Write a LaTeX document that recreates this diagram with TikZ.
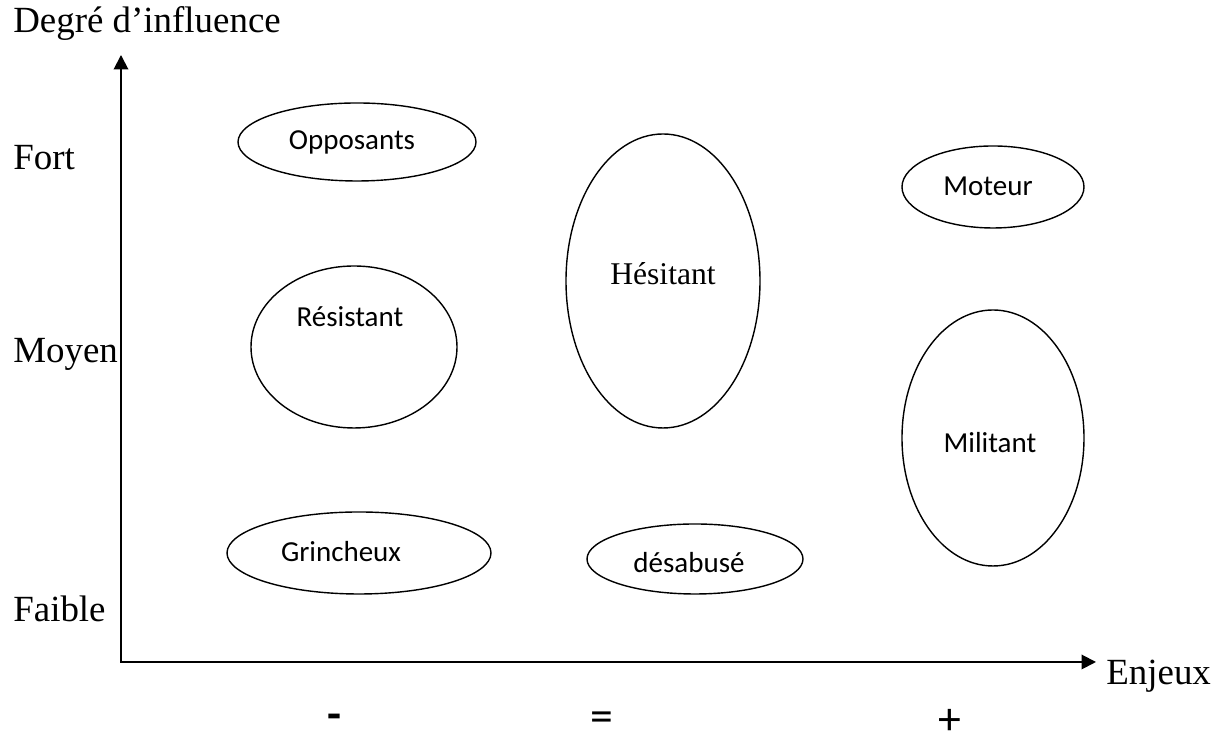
\documentclass[tikz,border=0pt]{standalone}
\usepackage{fontspec}
\setmainfont{Liberation Serif}
\newfontfamily\calib{Carlito}
\usetikzlibrary{arrows.meta,shapes.geometric}
\tikzset{
  axe/.style={line width=1.1pt,{Triangle[length=2.9mm,width=2.9mm]}-{Triangle[length=2.9mm,width=2.9mm]}},
  grp/.style={draw,ellipse,line width=0.8pt,inner sep=0pt},
  lbl/.style={font=\calib\fontsize{16.5}{19}\selectfont},
  axlbl/.style={font=\fontsize{21}{25}\selectfont,anchor=base west,inner sep=0pt},
  signe/.style={font=\calib\fontsize{26}{30}\selectfont,inner sep=0pt}
}
\begin{document}
\begin{tikzpicture}
\useasboundingbox (0,0) rectangle (24.38,15.02);
\coordinate (o) at (2.42,1.78);
\coordinate (ytop) at (2.42,13.92);
\coordinate (xend) at (21.92,1.78);
\draw[axe] (ytop) -- (o) -- (xend);
\node[axlbl] (deg) at (0.26,14.36) {Degré d’influence};
\node[axlbl] (fort) at (0.26,11.62) {Fort};
\node[axlbl] (moyen) at (0.26,7.76) {Moyen};
\node[axlbl] (faible) at (0.26,2.58) {Faible};
\node[axlbl] (enjeux) at (22.12,1.32) {Enjeux};
% groupes
\node[grp,minimum width=4.76cm,minimum height=1.56cm] (opp) at (7.14,12.18) {};
\node[lbl] (opp-t) at (7.04,12.18) {Opposants};
\node[grp,minimum width=3.88cm,minimum height=5.88cm] (hes) at (13.26,9.40) {};
\node[font=\fontsize{18}{21}\selectfont] (hes-t) at (13.26,9.54) {Hésitant};
\node[grp,minimum width=3.64cm,minimum height=1.64cm] (mot) at (19.86,11.28) {};
\node[lbl] (mot-t) at (19.76,11.30) {Moteur};
\node[grp,minimum width=4.12cm,minimum height=3.24cm] (res) at (7.08,8.08) {};
\node[lbl] (res-t) at (7.00,8.68) {Résistant};
\node[grp,minimum width=3.64cm,minimum height=5.12cm] (mil) at (19.86,6.26) {};
\node[lbl] (mil-t) at (19.80,6.16) {Militant};
\node[grp,minimum width=5.28cm,minimum height=1.64cm] (gri) at (7.18,3.96) {};
\node[lbl] (gri-t) at (6.82,3.98) {Grincheux};
\node[grp,minimum width=4.32cm,minimum height=1.40cm] (des) at (13.90,3.84) {};
\node[lbl] (des-t) at (13.78,3.76) {désabusé};
% enjeux
\node[signe,font=\calib\bfseries\fontsize{26}{30}\selectfont] (moins) at (6.68,0.58) {-};
\node[signe] (egal) at (12.04,0.58) {=};
\node[signe] (plus) at (19.00,0.58) {+};
\end{tikzpicture}
\end{document}
